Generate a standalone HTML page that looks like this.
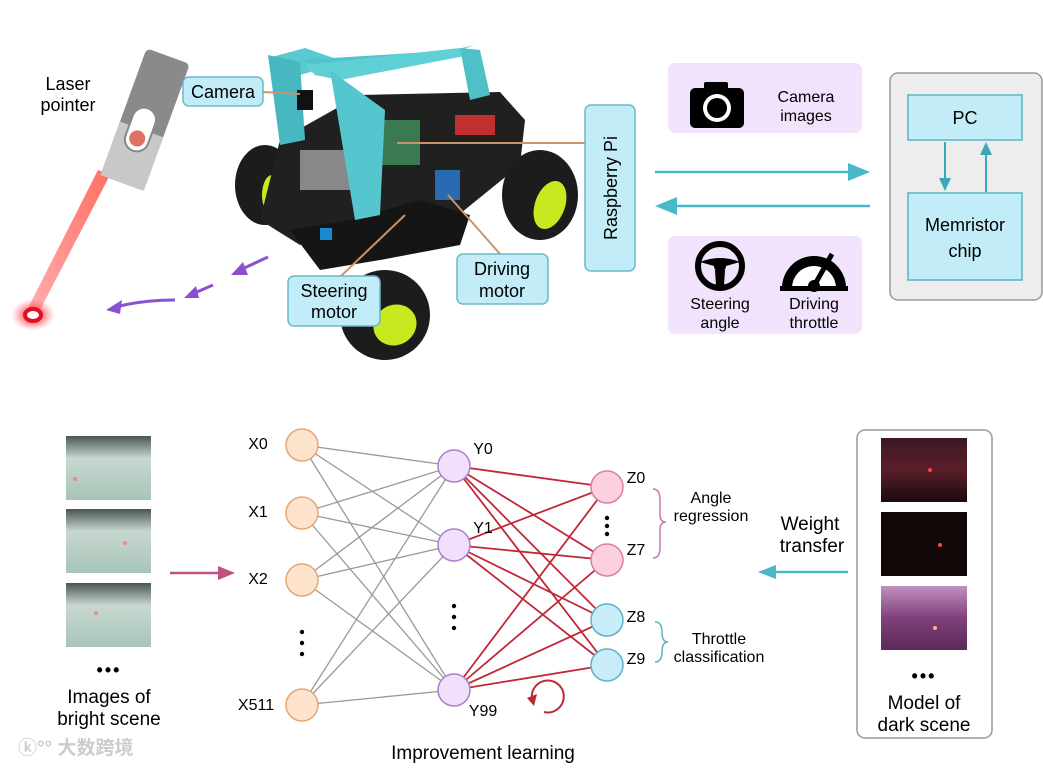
<!DOCTYPE html>
<html><head><meta charset="utf-8"><style>
body{margin:0;background:#fff;width:1043px;height:767px;overflow:hidden;font-family:"Liberation Sans","Noto Sans CJK SC",sans-serif}
</style></head><body>
<svg width="1043" height="767" viewBox="0 0 1043 767" xmlns="http://www.w3.org/2000/svg" font-family="Liberation Sans, Noto Sans CJK SC, sans-serif">
<defs>
<radialGradient id="spot"><stop offset="0" stop-color="#ff2030"/><stop offset="0.5" stop-color="#ff4050" stop-opacity="0.6"/><stop offset="1" stop-color="#ff8080" stop-opacity="0"/></radialGradient>
<linearGradient id="beam" x1="0" y1="1" x2="1" y2="0"><stop offset="0" stop-color="#ff6060" stop-opacity="0.5"/><stop offset="1" stop-color="#ff7060"/></linearGradient>
<linearGradient id="bright" x1="0" y1="0" x2="0" y2="1"><stop offset="0" stop-color="#4a5550"/><stop offset="0.35" stop-color="#c8d8d0"/><stop offset="1" stop-color="#a8c4b8"/></linearGradient>
<linearGradient id="dark1" x1="0" y1="0" x2="0" y2="1"><stop offset="0" stop-color="#3a1a22"/><stop offset="0.5" stop-color="#5a1e2a"/><stop offset="1" stop-color="#1a0a0e"/></linearGradient>
<linearGradient id="dark3" x1="0" y1="0" x2="0" y2="1"><stop offset="0" stop-color="#c090c0"/><stop offset="0.5" stop-color="#80407a"/><stop offset="1" stop-color="#5a2a5a"/></linearGradient>
</defs>

<!-- Laser pointer -->
<text x="68" y="90" font-size="18" text-anchor="middle">Laser</text>
<text x="68" y="111" font-size="18" text-anchor="middle">pointer</text>
<polygon points="110,175 40,310 28,308 98,170" fill="url(#beam)"/>
<g transform="rotate(20 145 120)">
<rect x="122" y="52" width="46" height="135" rx="5" fill="#8a8a8a"/>
<rect x="122" y="130" width="46" height="57" fill="#c8c8c8"/>
<rect x="132" y="108" width="24" height="45" rx="12" fill="#fff" stroke="#888" stroke-width="2"/>
<circle cx="144" cy="140" r="8" fill="#e07060"/>
</g>
<ellipse cx="33" cy="315" rx="22" ry="16" fill="url(#spot)"/>
<ellipse cx="33" cy="315" rx="8" ry="6" fill="#fff" stroke="#e01020" stroke-width="4"/>
<!-- purple arrows -->
<path d="M175,300 Q140,300 112,308" fill="none" stroke="#8a50d0" stroke-width="3"/>
<polygon points="106,310 122,300 120,314" fill="#8a50d0"/>
<line x1="213" y1="285" x2="190" y2="295" stroke="#8a50d0" stroke-width="3"/>
<polygon points="184,298 196,286 199,298" fill="#8a50d0"/>
<line x1="268" y1="257" x2="240" y2="270" stroke="#8a50d0" stroke-width="3"/>
<polygon points="231,275 243,262 248,275" fill="#8a50d0"/>

<!-- Car -->
<g>
<ellipse cx="265" cy="185" rx="30" ry="40" fill="#1c1c1c"/>
<ellipse cx="272" cy="195" rx="10" ry="20" fill="#c8e820"/>
<polygon points="280,140 360,95 500,92 525,120 520,165 440,230 370,225 300,245 260,220" fill="#202020"/>
<polygon points="290,230 350,220 420,200 470,215 460,245 380,260 320,270" fill="#151515"/>
<ellipse cx="540" cy="195" rx="38" ry="45" fill="#1c1c1c"/>
<ellipse cx="550" cy="205" rx="15" ry="25" fill="#c8e820" transform="rotate(20 550 205)"/>
<ellipse cx="385" cy="315" rx="45" ry="45" fill="#1c1c1c"/>
<ellipse cx="395" cy="325" rx="22" ry="20" fill="#c8e820" transform="rotate(-30 395 325)"/>
<rect x="300" y="150" width="50" height="40" fill="#888"/>
<rect x="360" y="120" width="60" height="45" fill="#3a7a50"/>
<rect x="455" y="115" width="40" height="20" fill="#c03030"/>
<rect x="435" y="170" width="25" height="30" fill="#2a6ab0"/>
<rect x="320" y="228" width="12" height="12" fill="#1a8ad0"/>
<!-- teal frame -->
<polygon points="268,58 305,48 345,62 300,75" fill="#58cad0"/>
<polygon points="300,60 460,50 475,45 345,75" fill="#50c4cc"/>
<polygon points="305,65 460,48 470,55 340,80 315,75" fill="#5fd0d6"/>
<polygon points="268,55 300,62 305,140 280,145" fill="#48b8c0"/>
<polygon points="330,70 385,110 380,215 355,220 340,130" fill="#55c6cd"/>
<polygon points="460,48 480,50 490,95 470,100" fill="#50c0c8"/>
<rect x="297" y="90" width="16" height="20" fill="#111"/>
</g>

<!-- leader lines -->
<g stroke="#c8956a" stroke-width="2" fill="none">
<line x1="263" y1="92" x2="300" y2="94"/>
<line x1="397" y1="143" x2="585" y2="143"/>
<line x1="340" y1="277" x2="405" y2="215"/>
<line x1="500" y1="254" x2="448" y2="195"/>
</g>
<g font-size="18" fill="#000">
<rect x="183" y="77" width="80" height="29" rx="6" fill="#c2ecf8" stroke="#6ab8c8" stroke-width="1.5"/>
<text x="223" y="98" text-anchor="middle">Camera</text>
<rect x="288" y="276" width="92" height="50" rx="6" fill="#c2ecf8" stroke="#6ab8c8" stroke-width="1.5"/>
<text x="334" y="297" text-anchor="middle">Steering</text>
<text x="334" y="318" text-anchor="middle">motor</text>
<rect x="457" y="254" width="91" height="50" rx="6" fill="#c2ecf8" stroke="#6ab8c8" stroke-width="1.5"/>
<text x="502" y="275" text-anchor="middle">Driving</text>
<text x="502" y="297" text-anchor="middle">motor</text>
<rect x="585" y="105" width="50" height="166" rx="6" fill="#c2ecf8" stroke="#6ab8c8" stroke-width="1.5"/>
<text x="0" y="0" text-anchor="middle" transform="translate(617 188) rotate(-90)">Raspberry Pi</text>
</g>

<!-- purple boxes -->
<rect x="668" y="63" width="194" height="70" rx="7" fill="#f1e3fb"/>
<g transform="translate(690 80)">
<rect x="0" y="8" width="54" height="40" rx="5" fill="#000"/>
<rect x="14" y="2" width="24" height="10" rx="2" fill="#000"/>
<circle cx="27" cy="28" r="14" fill="#fff"/><circle cx="27" cy="28" r="10" fill="#000"/>
</g>
<text x="806" y="102" font-size="16" text-anchor="middle">Camera</text>
<text x="806" y="121" font-size="16" text-anchor="middle">images</text>
<rect x="668" y="236" width="194" height="98" rx="7" fill="#f1e3fb"/>
<g transform="translate(720 266)">
<circle cx="0" cy="0" r="22" fill="none" stroke="#000" stroke-width="6"/>
<circle cx="0" cy="0" r="6" fill="#000"/>
<path d="M-20,-4 Q0,-12 20,-4 L6,0 L-6,0 Z" fill="#000"/>
<path d="M-5,4 L5,4 L4,20 L-4,20 Z" fill="#000"/>
</g>
<g transform="translate(814 288)">
<path d="M-32,0 A32,32 0 0 1 32,0 Z" fill="#000"/>
<path d="M-22,0 A22,22 0 0 1 22,0 Z" fill="#fff"/>
<circle cx="0" cy="-2" r="6" fill="#000"/>
<line x1="0" y1="-2" x2="18" y2="-34" stroke="#000" stroke-width="5"/>
<rect x="-34" y="-2" width="68" height="5" fill="#000"/>
</g>
<text x="720" y="309" font-size="16" text-anchor="middle">Steering</text>
<text x="720" y="328" font-size="16" text-anchor="middle">angle</text>
<text x="814" y="309" font-size="16" text-anchor="middle">Driving</text>
<text x="814" y="328" font-size="16" text-anchor="middle">throttle</text>

<!-- teal arrows -->
<line x1="655" y1="172" x2="855" y2="172" stroke="#4ab8c8" stroke-width="2.5"/>
<polygon points="870,172 848,163 848,181" fill="#4ab8c8"/>
<line x1="870" y1="206" x2="670" y2="206" stroke="#4ab8c8" stroke-width="2.5"/>
<polygon points="655,206 677,197 677,215" fill="#4ab8c8"/>

<!-- PC box -->
<rect x="890" y="73" width="152" height="227" rx="8" fill="#ededed" stroke="#999" stroke-width="1.5"/>
<rect x="908" y="95" width="114" height="45" fill="#c2ecf8" stroke="#5ab4c8" stroke-width="1.5"/>
<text x="965" y="124" font-size="18" text-anchor="middle">PC</text>
<rect x="908" y="193" width="114" height="87" fill="#c2ecf8" stroke="#5ab4c8" stroke-width="1.5"/>
<text x="965" y="231" font-size="18" text-anchor="middle">Memristor</text>
<text x="965" y="257" font-size="18" text-anchor="middle">chip</text>
<line x1="945" y1="142" x2="945" y2="180" stroke="#3aa8b8" stroke-width="2"/>
<polygon points="945,191 939,178 951,178" fill="#3aa8b8"/>
<line x1="986" y1="192" x2="986" y2="154" stroke="#3aa8b8" stroke-width="2"/>
<polygon points="986,142 980,155 992,155" fill="#3aa8b8"/>

<!-- bright images -->
<rect x="66" y="436" width="85" height="64" fill="url(#bright)"/>
<rect x="66" y="509" width="85" height="64" fill="url(#bright)"/>
<rect x="66" y="583" width="85" height="64" fill="url(#bright)"/>
<circle cx="75" cy="479" r="2" fill="#e88"/><circle cx="125" cy="543" r="2" fill="#e88"/><circle cx="96" cy="613" r="2" fill="#e88"/>
<text x="109" y="676" font-size="18" text-anchor="middle" font-weight="bold" letter-spacing="2">•••</text>
<text x="109" y="703" font-size="19" text-anchor="middle">Images of</text>
<text x="109" y="725" font-size="19" text-anchor="middle">bright scene</text>
<text x="18" y="754" font-size="19" fill="#ccc" font-weight="bold">ⓚ°° 大数跨境</text>
<line x1="170" y1="573" x2="222" y2="573" stroke="#c05080" stroke-width="2.5"/>
<polygon points="235,573 218,566 218,580" fill="#c05080"/>

<!-- network lines -->
<g stroke="#999" stroke-width="1.3">
<line x1="302" y1="445" x2="454" y2="466"/><line x1="302" y1="445" x2="454" y2="545"/><line x1="302" y1="445" x2="454" y2="690"/>
<line x1="302" y1="513" x2="454" y2="466"/><line x1="302" y1="513" x2="454" y2="545"/><line x1="302" y1="513" x2="454" y2="690"/>
<line x1="302" y1="580" x2="454" y2="466"/><line x1="302" y1="580" x2="454" y2="545"/><line x1="302" y1="580" x2="454" y2="690"/>
<line x1="302" y1="705" x2="454" y2="466"/><line x1="302" y1="705" x2="454" y2="545"/><line x1="302" y1="705" x2="454" y2="690"/>
</g>
<g stroke="#c02838" stroke-width="1.8">
<line x1="454" y1="466" x2="607" y2="487"/><line x1="454" y1="466" x2="607" y2="560"/><line x1="454" y1="466" x2="607" y2="620"/><line x1="454" y1="466" x2="607" y2="665"/>
<line x1="454" y1="545" x2="607" y2="487"/><line x1="454" y1="545" x2="607" y2="560"/><line x1="454" y1="545" x2="607" y2="620"/><line x1="454" y1="545" x2="607" y2="665"/>
<line x1="454" y1="690" x2="607" y2="487"/><line x1="454" y1="690" x2="607" y2="560"/><line x1="454" y1="690" x2="607" y2="620"/><line x1="454" y1="690" x2="607" y2="665"/>
</g>
<g fill="#fde2cc" stroke="#e3a878" stroke-width="1.5">
<circle cx="302" cy="445" r="16"/><circle cx="302" cy="513" r="16"/><circle cx="302" cy="580" r="16"/><circle cx="302" cy="705" r="16"/>
</g>
<g fill="#f0e0fb" stroke="#a880cc" stroke-width="1.5">
<circle cx="454" cy="466" r="16"/><circle cx="454" cy="545" r="16"/><circle cx="454" cy="690" r="16"/>
</g>
<g stroke-width="1.5">
<circle cx="607" cy="487" r="16" fill="#fcd0e0" stroke="#d880a0"/><circle cx="607" cy="560" r="16" fill="#fcd0e0" stroke="#d880a0"/>
<circle cx="607" cy="620" r="16" fill="#c8ecf8" stroke="#60b0c8"/><circle cx="607" cy="665" r="16" fill="#c8ecf8" stroke="#60b0c8"/>
</g>
<g font-size="16">
<text x="258" y="449" text-anchor="middle">X0</text><text x="258" y="517" text-anchor="middle">X1</text><text x="258" y="584" text-anchor="middle">X2</text><text x="256" y="710" text-anchor="middle">X511</text>
<text x="483" y="454" text-anchor="middle">Y0</text><text x="483" y="533" text-anchor="middle">Y1</text><text x="483" y="716" text-anchor="middle">Y99</text>
<text x="636" y="483" text-anchor="middle">Z0</text><text x="636" y="555" text-anchor="middle">Z7</text><text x="636" y="622" text-anchor="middle">Z8</text><text x="636" y="664" text-anchor="middle">Z9</text>
</g>
<g fill="#000">
<circle cx="302" cy="632" r="2.2"/><circle cx="302" cy="643" r="2.2"/><circle cx="302" cy="654" r="2.2"/>
<circle cx="454" cy="606" r="2.2"/><circle cx="454" cy="617" r="2.2"/><circle cx="454" cy="628" r="2.2"/>
<circle cx="607" cy="518" r="2.2"/><circle cx="607" cy="526" r="2.2"/><circle cx="607" cy="534" r="2.2"/>
</g>
<path d="M653,489 Q660,489 660,500 L660,515 Q660,522 666,522 Q660,522 660,530 L660,548 Q660,558 653,558" fill="none" stroke="#c878b0" stroke-width="1.5"/>
<path d="M655,622 Q662,622 662,632 Q662,642 668,642 Q662,642 662,652 Q662,662 655,662" fill="none" stroke="#60b0c8" stroke-width="1.5"/>
<g font-size="16" text-anchor="middle">
<text x="711" y="503">Angle</text><text x="711" y="521">regression</text>
<text x="719" y="644">Throttle</text><text x="719" y="662">classification</text>
</g>
<path d="M544,712 A16,16 0 1 0 532,699" fill="none" stroke="#c02838" stroke-width="2"/>
<polygon points="527,698 537,694 534,706" fill="#c02838"/>
<text x="483" y="759" font-size="19" text-anchor="middle">Improvement learning</text>

<!-- dark scene -->
<text x="810" y="530" font-size="19" text-anchor="middle">Weight</text>
<text x="812" y="552" font-size="19" text-anchor="middle">transfer</text>
<line x1="848" y1="572" x2="772" y2="572" stroke="#4ab8c8" stroke-width="2.5"/>
<polygon points="758,572 776,565 776,579" fill="#4ab8c8"/>
<rect x="857" y="430" width="135" height="308" rx="8" fill="#fff" stroke="#999" stroke-width="1.5"/>
<rect x="881" y="438" width="86" height="64" fill="url(#dark1)"/>
<rect x="881" y="512" width="86" height="64" fill="#120808"/>
<rect x="881" y="586" width="86" height="64" fill="url(#dark3)"/>
<circle cx="930" cy="470" r="2" fill="#f44"/><circle cx="940" cy="545" r="2" fill="#f44"/><circle cx="935" cy="628" r="2" fill="#faa"/>
<text x="924" y="682" font-size="18" text-anchor="middle" font-weight="bold" letter-spacing="2">•••</text>
<text x="924" y="709" font-size="19" text-anchor="middle">Model of</text>
<text x="924" y="731" font-size="19" text-anchor="middle">dark scene</text>
</svg>
</body></html>
